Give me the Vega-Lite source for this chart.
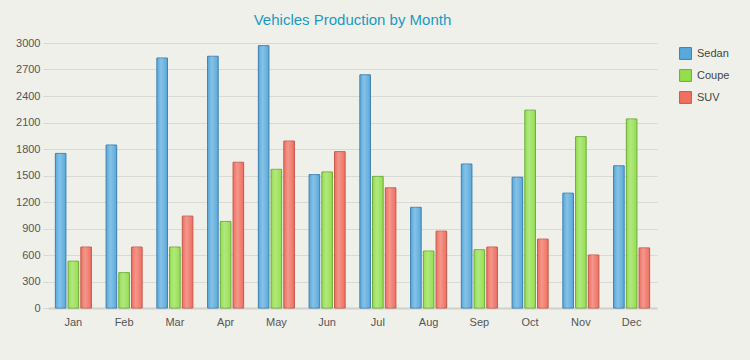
{
  "$schema": "https://vega.github.io/schema/vega-lite/v6.json",
  "width": 609,
  "height": 265,
  "autosize": {"type": "none"},
  "padding": {"left": 48, "top": 43, "right": 93, "bottom": 52},
  "background": "#f0f0ea",
  "title": {
    "text": "Vehicles Production by Month",
    "fontSize": 15,
    "fontWeight": "normal",
    "font": "Liberation Sans",
    "color": "#1a9ac2",
    "anchor": "middle",
    "offset": 9
  },
  "data": {
    "values": [
      {"month": "Jan", "type": "Sedan", "value": 1750},
      {"month": "Jan", "type": "Coupe", "value": 530},
      {"month": "Jan", "type": "SUV", "value": 690},
      {"month": "Feb", "type": "Sedan", "value": 1845},
      {"month": "Feb", "type": "Coupe", "value": 400},
      {"month": "Feb", "type": "SUV", "value": 690},
      {"month": "Mar", "type": "Sedan", "value": 2830},
      {"month": "Mar", "type": "Coupe", "value": 690},
      {"month": "Mar", "type": "SUV", "value": 1040},
      {"month": "Apr", "type": "Sedan", "value": 2850},
      {"month": "Apr", "type": "Coupe", "value": 980},
      {"month": "Apr", "type": "SUV", "value": 1650},
      {"month": "May", "type": "Sedan", "value": 2970},
      {"month": "May", "type": "Coupe", "value": 1570},
      {"month": "May", "type": "SUV", "value": 1890},
      {"month": "Jun", "type": "Sedan", "value": 1510},
      {"month": "Jun", "type": "Coupe", "value": 1540},
      {"month": "Jun", "type": "SUV", "value": 1770},
      {"month": "Jul", "type": "Sedan", "value": 2640},
      {"month": "Jul", "type": "Coupe", "value": 1490},
      {"month": "Jul", "type": "SUV", "value": 1360},
      {"month": "Aug", "type": "Sedan", "value": 1140},
      {"month": "Aug", "type": "Coupe", "value": 645},
      {"month": "Aug", "type": "SUV", "value": 870},
      {"month": "Sep", "type": "Sedan", "value": 1630},
      {"month": "Sep", "type": "Coupe", "value": 660},
      {"month": "Sep", "type": "SUV", "value": 690},
      {"month": "Oct", "type": "Sedan", "value": 1480},
      {"month": "Oct", "type": "Coupe", "value": 2240},
      {"month": "Oct", "type": "SUV", "value": 780},
      {"month": "Nov", "type": "Sedan", "value": 1300},
      {"month": "Nov", "type": "Coupe", "value": 1940},
      {"month": "Nov", "type": "SUV", "value": 600},
      {"month": "Dec", "type": "Sedan", "value": 1610},
      {"month": "Dec", "type": "Coupe", "value": 2140},
      {"month": "Dec", "type": "SUV", "value": 680}
    ]
  },
  "encoding": {
    "x": {
      "field": "month",
      "type": "nominal",
      "sort": ["Jan","Feb","Mar","Apr","May","Jun","Jul","Aug","Sep","Oct","Nov","Dec"],
      "scale": {"paddingInner": 0.29, "paddingOuter": 0.145},
      "axis": {
        "title": null,
        "labelAngle": 0,
        "labelFontSize": 11,
        "labelFont": "Liberation Sans",
        "labelColor": "#555555",
        "labelPadding": 8,
        "ticks": false,
        "domainColor": "#d0d0cc",
        "domainWidth": 2
      }
    },
    "xOffset": {
      "field": "type",
      "type": "nominal",
      "sort": ["Sedan", "Coupe", "SUV"],
      "scale": {"paddingInner": 0.17}
    },
    "y": {
      "field": "value",
      "type": "quantitative",
      "scale": {"domain": [0, 3000]},
      "axis": {
        "title": null,
        "format": "d",
        "values": [0,300,600,900,1200,1500,1800,2100,2400,2700,3000],
        "labelFontSize": 11,
        "labelFont": "Liberation Sans",
        "labelColor": "#555555",
        "labelPadding": 3,
        "tickSize": 5,
        "tickColor": "#d6d6d2",
        "domain": false,
        "gridColor": "#d9d9d5",
        "gridWidth": 1
      }
    }
  },
  "layer": [
    {
      "mark": {"type": "bar", "strokeWidth": 1, "opacity": 1},
      "encoding": {
        "color": {
          "field": "type",
          "type": "nominal",
          "sort": ["Sedan", "Coupe", "SUV"],
          "scale": {"domain": ["Sedan", "Coupe", "SUV"], "range": ["#58aadc", "#94df4e", "#ef6f60"]},
          "legend": {
            "title": null,
            "orient": "none",
            "legendX": 631,
            "legendY": 4,
            "symbolType": "square",
            "symbolSize": 140,
            "symbolStrokeWidth": 1,
            "symbolOpacity": 1,
            "labelFontSize": 11,
            "labelFont": "Liberation Sans",
            "labelColor": "#444444",
            "labelOffset": 5,
            "rowPadding": 5
          }
        },
        "stroke": {
          "field": "type",
          "type": "nominal",
          "scale": {"domain": ["Sedan", "Coupe", "SUV"], "range": ["#3b7db0", "#6aaa38", "#c4574a"]},
          "legend": null
        }
      }
    },
    {
      "mark": {
        "type": "bar",
        "fill": {
          "gradient": "linear", "x1": 0, "y1": 0, "x2": 1, "y2": 0,
          "stops": [
            {"offset": 0, "color": "rgba(255,255,255,0)"},
            {"offset": 0.4, "color": "rgba(255,255,255,0.28)"},
            {"offset": 1, "color": "rgba(255,255,255,0)"}
          ]
        },
        "stroke": null
      }
    }
  ],
  "config": {
    "view": {"stroke": null}
  }
}
